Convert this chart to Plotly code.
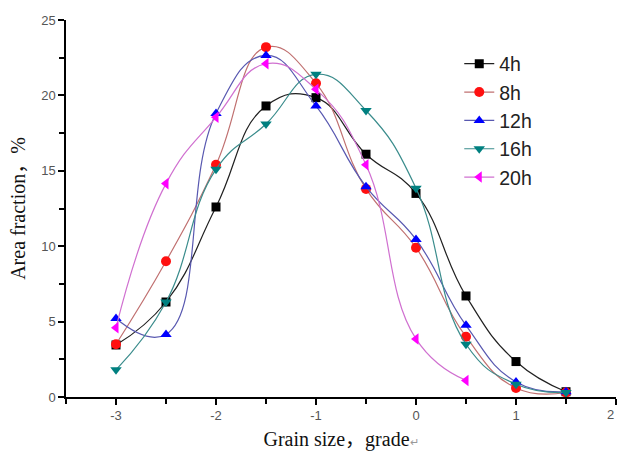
import plotly.graph_objects as go

grain = [-3, -2.5, -2, -1.5, -1, -0.5, 0, 0.5, 1, 1.5]
grain_20h = [-3, -2.5, -2, -1.5, -1, -0.5, 0, 0.5]

h4 = [3.45, 6.3, 12.6, 19.3, 19.85, 16.1, 13.5, 6.7, 2.35, 0.35]
h8 = [3.5, 9.0, 15.4, 23.2, 20.8, 13.8, 9.9, 4.0, 0.6, 0.3]
h12 = [5.2, 4.15, 18.8, 22.65, 19.3, 13.95, 10.45, 4.75, 1.0, 0.35]
h16 = [1.8, 6.3, 15.1, 18.1, 21.4, 19.0, 13.85, 3.5, 0.85, 0.3]
h20 = [4.6, 14.15, 18.55, 22.1, 20.4, 15.4, 3.85, 1.1]

x_ticks = [-3, -2, -1, 0, 1, 2]
x_ticktext = ["-3", "-2", "-1", "0", "1", "2"]
y_ticks = [0, 5, 10, 15, 20, 25]

series = [
    ("4h", grain, h4, "#202020", "black", "square", 9),
    ("8h", grain, h8, "#c07070", "#ff1010", "circle", 10),
    ("12h", grain, h12, "#5858b0", "#0000ff", "triangle-up", 10),
    ("16h", grain, h16, "#3a8c8c", "#008080", "triangle-down", 10),
    ("20h", grain_20h, h20, "#d070d0", "#ff00ff", "triangle-left", 10),
]

fig = go.Figure()
for name, xs, ys, lc, mc, sym, ms in series:
    fig.add_trace(go.Scatter(
        x=xs, y=ys, name=name, mode="lines+markers",
        line=dict(color=lc, width=1.2, shape="spline", smoothing=1.3),
        marker=dict(color=mc, symbol=sym, size=ms, line=dict(width=0)),
    ))

tickfont = dict(family="Arial, Liberation Sans, sans-serif", size=13, color="#555555")
serif = "Liberation Serif, Noto Sans CJK SC, serif"

# last x tick label sits at the page edge; keep it just inside
fig.add_annotation(x=x_ticks[-1], y=0, xref="x", yref="paper", xanchor="right", yanchor="top",
                   xshift=0, yshift=-8, text=x_ticktext[-1], showarrow=False, font=tickfont)

fig.update_layout(
    width=617, height=454,
    margin=dict(l=66, r=1, t=20, b=57),
    paper_bgcolor="white", plot_bgcolor="white",
    showlegend=True,
    legend=dict(x=0.715, y=0.935, xanchor="left", yanchor="top",
                font=dict(family="Arial, Liberation Sans, sans-serif", size=19.5, color="#222222"),
                bgcolor="rgba(0,0,0,0)", borderwidth=0, tracegroupgap=0),
    xaxis=dict(range=[-3.5, 2], tickvals=x_ticks, ticktext=x_ticktext, showgrid=False, zeroline=False,
               showline=True, linecolor="black", linewidth=1.5,
               ticks="outside", ticklen=6, tickwidth=1.5, tickcolor="black",
               minor=dict(dtick=0.5, tick0=0, ticks="outside", ticklen=5, tickwidth=1.5, tickcolor="black"),
               tickfont=tickfont,
               title=dict(text="Grain size，grade<span style='font-size:11px;color:#999'>↵</span>",
                          font=dict(family=serif, size=20, color="#111111"),
                          standoff=10)),
    yaxis=dict(range=[0, 25], tickvals=y_ticks, showgrid=False, zeroline=False,
               showline=True, linecolor="black", linewidth=1.5,
               ticks="outside", ticklen=6, tickwidth=1.5, tickcolor="black",
               minor=dict(dtick=2.5, ticks="outside", ticklen=5, tickwidth=1.5, tickcolor="black"),
               tickfont=tickfont,
               title=dict(text="Area fraction，%",
                          font=dict(family=serif, size=20, color="#111111"),
                          standoff=10)),
)
fig.write_html("out.html")
